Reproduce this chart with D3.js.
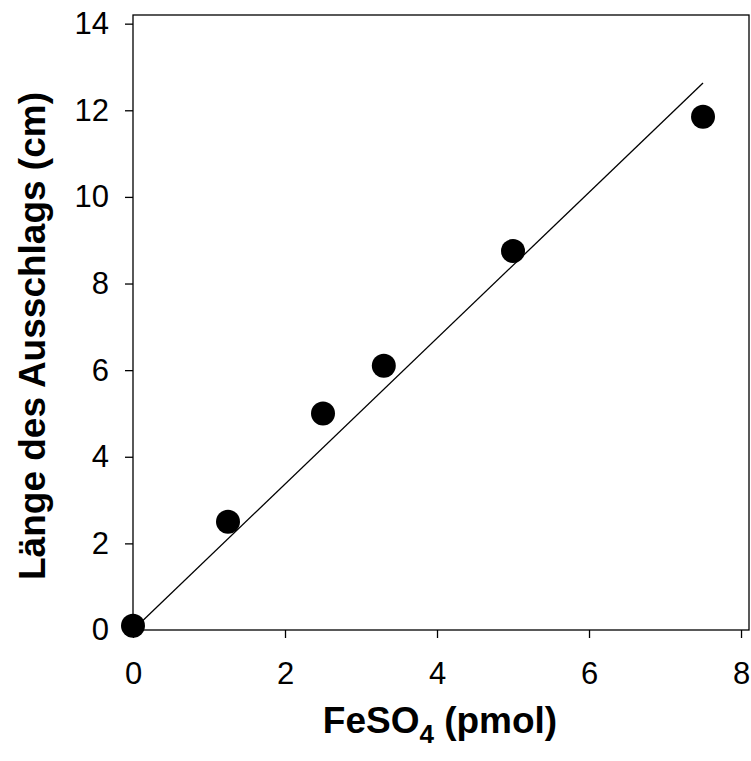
<!DOCTYPE html>
<html>
<head>
<meta charset="utf-8">
<title>FeSO4 Kalibrierung</title>
<script src="https://d3js.org/d3.v7.min.js"></script>
<style>
  body { margin: 0; background: #fff; }
  text { font-family: "Liberation Sans", Arial, sans-serif; fill: #000; }
  .tick text { font-size: 31px; }
  .axis path, .axis line { stroke: #000; stroke-width: 1.3px; }
</style>
</head>
<body>
<svg width="751" height="761"></svg>
<script>
// measured points
var fesoPmol = [0, 1.25, 2.5, 3.3, 5.0, 7.5];
var ausschlagCm = [0.1, 2.5, 5.0, 6.1, 8.75, 11.85];
// regression line end points
var fitX = [0, 7.5];
var fitY = [0, 12.63];
var xTicks = [0, 2, 4, 6, 8];
var yTicks = [0, 2, 4, 6, 8, 10, 12, 14];

var svg = d3.select("svg");
var plotL = 133, plotR = 749, plotT = 15, plotB = 630;

var x = d3.scaleLinear().domain([0, 8.105]).range([plotL, plotR]);
var y = d3.scaleLinear().domain([0, 14.2]).range([plotB, plotT]);

// frame
svg.append("rect")
  .attr("x", plotL).attr("y", plotT)
  .attr("width", plotR - plotL).attr("height", plotB - plotT)
  .style("fill", "none").style("stroke", "#000").style("stroke-width", 1.3);

svg.append("g").attr("class", "axis")
  .attr("transform", "translate(0," + plotB + ")")
  .call(d3.axisBottom(x).tickValues(xTicks).tickSize(8).tickPadding(24).tickSizeOuter(0))
  .call(function(g){ g.select(".domain").remove(); });

svg.append("g").attr("class", "axis")
  .attr("transform", "translate(" + plotL + ",0)")
  .call(d3.axisLeft(y).tickValues(yTicks).tickSize(8).tickPadding(16).tickSizeOuter(0))
  .call(function(g){ g.select(".domain").remove(); });

// fit line
svg.append("path")
  .datum(d3.zip(fitX, fitY))
  .attr("d", d3.line().x(function(d){ return x(d[0]); }).y(function(d){ return y(d[1]); }))
  .style("fill", "none").style("stroke", "#000").style("stroke-width", 1.3);

// points
svg.selectAll("circle.pt").data(d3.zip(fesoPmol, ausschlagCm))
  .enter().append("circle")
  .attr("class", "pt")
  .attr("cx", function(d){ return x(d[0]); })
  .attr("cy", function(d){ return y(d[1]); })
  .attr("r", 12)
  .style("fill", "#000");

// axis titles
var xt = svg.append("text")
  .attr("x", 440).attr("y", 733)
  .attr("text-anchor", "middle")
  .style("font-size", "37px").style("font-weight", "bold");
xt.append("tspan").text("FeSO");
xt.append("tspan").attr("dy", 10).style("font-size", "26px").text("4");
xt.append("tspan").attr("dy", -10).text(" (pmol)");

svg.append("text")
  .attr("transform", "translate(45,336) rotate(-90)")
  .attr("text-anchor", "middle")
  .style("font-size", "37px").style("font-weight", "bold")
  .text("Länge des Ausschlags (cm)");
</script>
</body>
</html>
